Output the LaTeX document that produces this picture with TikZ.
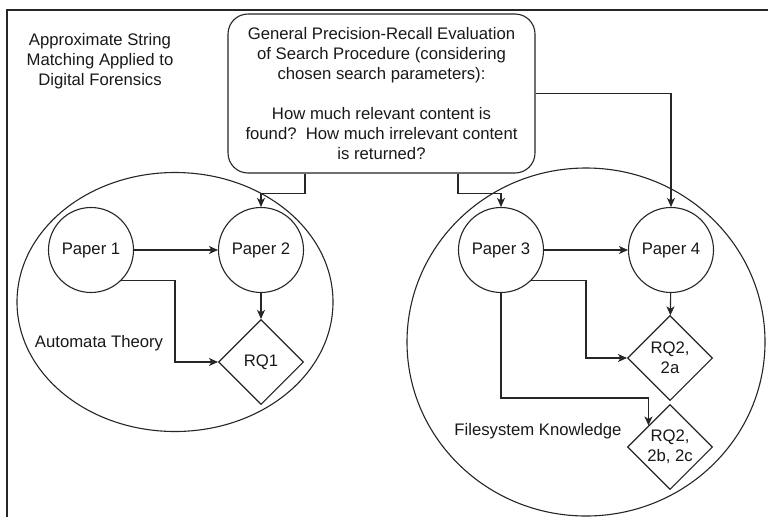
\documentclass[tikz,border=0pt]{standalone}
\usepackage{fontspec}
\setmainfont{Liberation Sans}
\usetikzlibrary{arrows.meta,shapes.geometric,calc}

\tikzset{
  ink/.style={draw=black!85, line width=1.1pt},
  txt/.style={text=black!90, font=\fontsize{16.7}{20}\selectfont, align=center},
  paper/.style={ink, txt, circle, inner sep=0pt, minimum size=85},
  rq/.style={ink, txt, diamond, aspect=1, inner sep=0pt, minimum size=85},
  group/.style={ink, ellipse, inner sep=0pt},
  arr/.style={ink, -{Stealth[length=9pt, width=8pt, inset=2.5pt]}},
  wire/.style={ink}
}

\begin{document}
\begin{tikzpicture}[x=1pt, y=-1pt]
  \useasboundingbox (0,0) rectangle (768,517);
  \fill[white] (0,0) rectangle (768,517);

  % page frame (top and left edges)
  \draw[ink] (768,10) -- (7,10) -- (7,517);

  % topic groups
  \node[group, minimum width=316, minimum height=259] (autom) at (175,302) {};
  \node[group, minimum width=358, minimum height=348] (fsys) at (586,342) {};

  % title and group labels
  \node[txt] (title) at (100,61) {Approximate String\\Matching Applied to\\Digital Forensics};
  \node[txt] (lblA) at (99,343) {Automata Theory};
  \node[txt] (lblB) at (538,431) {Filesystem Knowledge};

  % evaluation box
  \node[ink, txt, rectangle, rounded corners=20, minimum width=307, minimum height=159,
        inner sep=0pt] (box) at (381.5,93.5)
    {General Precision-Recall Evaluation\\of Search Procedure (considering\\chosen search parameters):\\[20pt]How much relevant content is\\found?\ \ How much irrelevant content\\is returned?};

  % papers
  \node[paper] (p1) at (91,250) {Paper 1};
  \node[paper] (p2) at (261,250) {Paper 2};
  \node[paper] (p3) at (501,250) {Paper 3};
  \node[paper] (p4) at (671,250) {Paper 4};

  % research questions
  \node[rq] (rq1) at (261,362) {RQ1};
  \node[rq] (rq2a) at (670,358) {RQ2,\\2a};
  \node[rq] (rq2bc) at (670,447) {RQ2,\\2b, 2c};

  \coordinate (lowrun) at (0,398);

  % evaluation feeds into papers
  \draw[arr] ($(box.south)+(-76.5,0)$) -- ++(0,20) -| (p2.north);
  \draw[arr] ($(box.south)+(76.5,0)$) -- ++(0,20) -| (p3.north);
  \draw[arr] (box.east) -| (p4.north);

  % automata theory group
  \draw[arr] (p1) -- (p2);
  \draw[arr] (p2) -- (rq1);
  \draw[arr] (p1.-45) -| (175,362) -- (rq1.west);

  % filesystem knowledge group
  \draw[arr] (p3) -- (p4);
  \draw[arr] (p4) -- (rq2a);
  \draw[arr] (p3.-45) -| (586,358) -- (rq2a.west);
  \draw[arr] (p3.south) |- (rq2bc.north west |- lowrun) -- (rq2bc.north west);
\end{tikzpicture}
\end{document}
